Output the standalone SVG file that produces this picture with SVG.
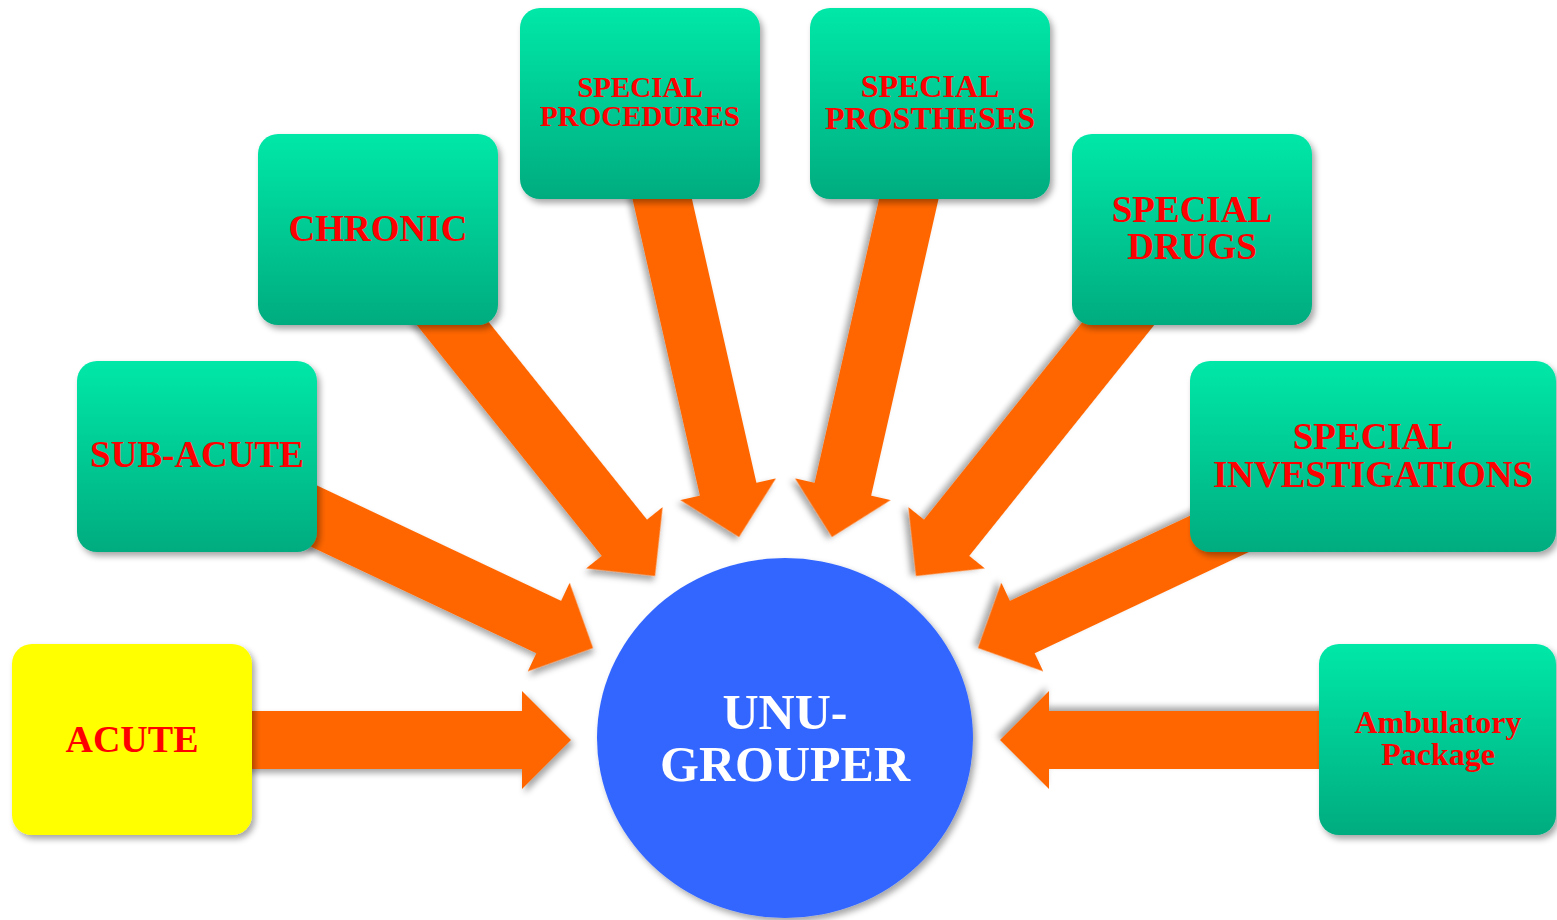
<svg xmlns="http://www.w3.org/2000/svg" width="1557" height="920" viewBox="0 0 1557 920">
<defs>
<linearGradient id="gGreen" x1="0" y1="0" x2="0" y2="1">
<stop offset="0" stop-color="#00E8A8"/>
<stop offset="1" stop-color="#00AC7F"/>
</linearGradient>
<filter id="sh" x="-20%" y="-20%" width="140%" height="140%">
<feDropShadow dx="3" dy="4" stdDeviation="3" flood-color="#000" flood-opacity="0.35"/>
</filter>
</defs>
<style>
.arrow{fill:#FF6600;filter:url(#sh)}
.box{fill:url(#gGreen);filter:url(#sh)}
.yellow{fill:#FFFF00;filter:url(#sh)}
.lbl{font-family:"Liberation Serif","Times New Roman",serif;font-weight:bold;fill:#FF0000;text-anchor:middle}
.hub{font-family:"Liberation Serif","Times New Roman",serif;font-weight:bold;fill:#FFFFFF;text-anchor:middle;font-size:50px}
</style>
<rect width="1557" height="920" fill="#FFFFFF"/>
<g id="connectors">
<polygon class="arrow" transform="translate(571,740) rotate(0)" points="-330,-29 -49,-29 -49,-49 0,0 -49,49 -49,29 -330,29"/>
<polygon class="arrow" transform="translate(593,648) rotate(25.3)" points="-330,-29 -49,-29 -49,-49 0,0 -49,49 -49,29 -330,29"/>
<polygon class="arrow" transform="translate(655,576) rotate(51.3)" points="-354,-29 -49,-29 -49,-49 0,0 -49,49 -49,29 -354,29"/>
<polygon class="arrow" transform="translate(739,537) rotate(77.2)" points="-376,-29 -49,-29 -49,-49 0,0 -49,49 -49,29 -376,29"/>
<polygon class="arrow" transform="translate(832,537) rotate(102.8)" points="-376,-29 -49,-29 -49,-49 0,0 -49,49 -49,29 -376,29"/>
<polygon class="arrow" transform="translate(916,576) rotate(128.7)" points="-354,-29 -49,-29 -49,-49 0,0 -49,49 -49,29 -354,29"/>
<polygon class="arrow" transform="translate(978,648) rotate(154.7)" points="-330,-29 -49,-29 -49,-49 0,0 -49,49 -49,29 -330,29"/>
<polygon class="arrow" transform="translate(1000,740) rotate(180)" points="-340,-29 -49,-29 -49,-49 0,0 -49,49 -49,29 -340,29"/>
</g>
<g id="acute">
<rect class="yellow" x="12" y="644" width="240" height="191" rx="20"/>
<text class="lbl" x="132" y="752" font-size="38">ACUTE</text>
</g>
<g id="sub-acute">
<rect class="box" x="77" y="361" width="240" height="191" rx="20"/>
<text class="lbl" x="197" y="467" font-size="37">SUB-ACUTE</text>
</g>
<g id="chronic">
<rect class="box" x="258" y="134" width="240" height="191" rx="20"/>
<text class="lbl" x="378" y="241" font-size="37">CHRONIC</text>
</g>
<g id="special-procedures">
<rect class="box" x="520" y="8" width="240" height="191" rx="20"/>
<text class="lbl" x="640" y="97" font-size="29">SPECIAL</text>
<text class="lbl" x="640" y="126" font-size="29">PROCEDURES</text>
</g>
<g id="special-prostheses">
<rect class="box" x="810" y="8" width="240" height="191" rx="20"/>
<text class="lbl" x="930" y="97" font-size="32">SPECIAL</text>
<text class="lbl" x="930" y="129" font-size="32">PROSTHESES</text>
</g>
<g id="special-drugs">
<rect class="box" x="1072" y="134" width="240" height="191" rx="20"/>
<text class="lbl" x="1192" y="222" font-size="37">SPECIAL</text>
<text class="lbl" x="1192" y="259" font-size="37">DRUGS</text>
</g>
<g id="special-investigations">
<rect class="box" x="1190" y="361" width="366" height="191" rx="20"/>
<text class="lbl" x="1373" y="449" font-size="37">SPECIAL</text>
<text class="lbl" x="1373" y="487" font-size="37">INVESTIGATIONS</text>
</g>
<g id="ambulatory-package">
<rect class="box" x="1319" y="644" width="237" height="191" rx="20"/>
<text class="lbl" x="1438" y="733" font-size="32">Ambulatory</text>
<text class="lbl" x="1438" y="765" font-size="32">Package</text>
</g>
<g id="unu-grouper">
<ellipse cx="785" cy="738" rx="188" ry="180" fill="#3366FF" filter="url(#sh)"/>
<text class="hub" x="785" y="729">UNU-</text>
<text class="hub" x="785" y="781">GROUPER</text>
</g>
</svg>
